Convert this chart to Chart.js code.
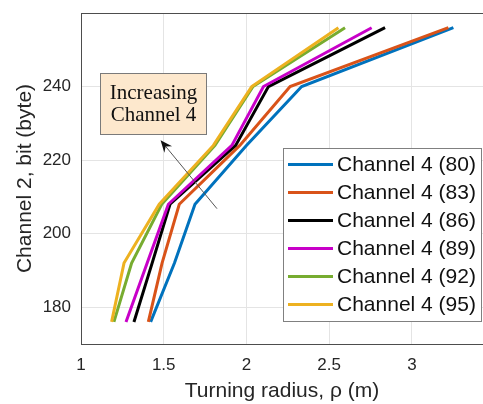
<!DOCTYPE html>
<html>
<head>
<meta charset="utf-8">
<script src="https://cdn.jsdelivr.net/npm/chart.js@4"></script>
<style>
  html, body { margin: 0; padding: 0; background: #fff; }
  #wrap { width: 483px; height: 404px; }
</style>
</head>
<body>
<div id="wrap"><canvas id="chart"></canvas></div>
<script>
// Valeurs
const channel2 = [176, 192, 208, 224, 240, 256];
const labels = ['Channel 4 (80)', 'Channel 4 (83)', 'Channel 4 (86)', 'Channel 4 (89)', 'Channel 4 (92)', 'Channel 4 (95)'];
const radius80 = [1.421, 1.565, 1.689, 2.000, 2.334, 3.251];
const radius83 = [1.407, 1.490, 1.594, 1.960, 2.264, 3.221];
const radius86 = [1.320, 1.430, 1.538, 1.935, 2.133, 2.838];
const radius89 = [1.272, 1.400, 1.528, 1.912, 2.103, 2.757];
const radius92 = [1.199, 1.306, 1.488, 1.810, 2.040, 2.596];
const radius95 = [1.185, 1.260, 1.473, 1.800, 2.032, 2.556];
const colors = ['#0072BD', '#D95319', '#000000', '#C800C8', '#77AC30', '#EDB120'];
const xTicks = [1, 1.5, 2, 2.5, 3];
const yTicks = [180, 200, 220, 240];

const FONT = "'Liberation Sans', Arial, sans-serif";
const series = [radius80, radius83, radius86, radius89, radius92, radius95];

const datasets = series.map(function(vals, i) {
  return {
    label: labels[i],
    data: vals.map(function(v, k) { return { x: v, y: channel2[k] }; }),
    borderColor: colors[i],
    backgroundColor: colors[i],
    borderWidth: 3,
    pointRadius: 0,
    tension: 0,
    showLine: true,
    order: series.length - i
  };
});

// Annotation (en unités de données)
const note = { x1: 1.115, x2: 1.754, y1: 243.6, y2: 227.1, lines: ['Increasing', 'Channel 4'] };
const arrow = { fromX: 1.822, fromY: 206.8, toX: 1.481, toY: 225.4 };

const extrasPlugin = {
  id: 'extras',
  afterDraw: function(chart) {
    const ctx = chart.ctx;
    const area = chart.chartArea;
    const xs = chart.scales.x;
    const ys = chart.scales.y;

    // bord supérieur
    ctx.save();
    ctx.strokeStyle = '#4d4d4d';
    ctx.lineWidth = 1;
    ctx.beginPath();
    ctx.moveTo(area.left, Math.round(area.top) + 0.5);
    ctx.lineTo(area.right, Math.round(area.top) + 0.5);
    ctx.stroke();

    // flèche
    const ax = xs.getPixelForValue(arrow.fromX), ay = ys.getPixelForValue(arrow.fromY);
    const bx = xs.getPixelForValue(arrow.toX), by = ys.getPixelForValue(arrow.toY);
    const ang = Math.atan2(by - ay, bx - ax);
    ctx.strokeStyle = '#555';
    ctx.fillStyle = '#111';
    ctx.lineWidth = 1;
    ctx.beginPath();
    ctx.moveTo(ax, ay);
    ctx.lineTo(bx - 8 * Math.cos(ang), by - 8 * Math.sin(ang));
    ctx.stroke();
    ctx.beginPath();
    ctx.moveTo(bx, by);
    ctx.lineTo(bx - 12 * Math.cos(ang) + 5 * Math.sin(ang), by - 12 * Math.sin(ang) - 5 * Math.cos(ang));
    ctx.lineTo(bx - 8 * Math.cos(ang), by - 8 * Math.sin(ang));
    ctx.lineTo(bx - 12 * Math.cos(ang) - 5 * Math.sin(ang), by - 12 * Math.sin(ang) + 5 * Math.cos(ang));
    ctx.closePath();
    ctx.fill();

    // boîte de texte
    const l = Math.round(xs.getPixelForValue(note.x1)) + 0.5;
    const r = Math.round(xs.getPixelForValue(note.x2)) + 0.5;
    const t = Math.round(ys.getPixelForValue(note.y1)) + 0.5;
    const b = Math.round(ys.getPixelForValue(note.y2)) + 0.5;
    ctx.fillStyle = '#FDE8CD';
    ctx.fillRect(l, t, r - l, b - t);
    ctx.strokeStyle = '#7a7a7a';
    ctx.strokeRect(l, t, r - l, b - t);
    ctx.fillStyle = '#111';
    ctx.font = "21px 'Liberation Serif', 'Times New Roman', serif";
    ctx.textAlign = 'center';
    ctx.textBaseline = 'middle';
    const cx = (l + r) / 2, cy = (t + b) / 2;
    ctx.fillText(note.lines[0], cx, cy - 11);
    ctx.fillText(note.lines[1], cx, cy + 11);

    // légende dans le graphique
    const lgL = 283.5, lgT = 148.5, lgR = 481.5, lgB = 321.5;
    ctx.fillStyle = '#fff';
    ctx.fillRect(lgL, lgT, lgR - lgL, lgB - lgT);
    ctx.strokeStyle = '#808080';
    ctx.strokeRect(lgL, lgT, lgR - lgL, lgB - lgT);
    ctx.font = '21px ' + FONT;
    ctx.textAlign = 'left';
    ctx.textBaseline = 'middle';
    chart.data.datasets.forEach(function(ds, i) {
      const yy = 164.5 + i * 28;
      ctx.strokeStyle = ds.borderColor;
      ctx.lineWidth = 3;
      ctx.beginPath();
      ctx.moveTo(288, yy);
      ctx.lineTo(333, yy);
      ctx.stroke();
      ctx.fillStyle = '#111';
      ctx.fillText(ds.label, 337, yy + 1);
    });
    ctx.restore();
  }
};

new Chart(document.getElementById('chart'), {
  type: 'scatter',
  data: { datasets: datasets },
  options: {
    responsive: true,
    maintainAspectRatio: false,
    animation: false,
    layout: { padding: { top: 13, right: 0, bottom: 0, left: 0 } },
    plugins: {
      legend: { display: false },
      tooltip: { enabled: false }
    },
    scales: {
      x: {
        type: 'linear',
        min: 1,
        max: 3.43,
        afterBuildTicks: function(s) { s.ticks = xTicks.map(function(v) { return { value: v }; }); },
        afterFit: function(s) { s.height = 60; s.paddingLeft = 0; s.paddingRight = 0; },
        grid: { color: '#e4e4e4', drawTicks: false },
        border: { color: '#4d4d4d' },
        ticks: {
          color: '#262626', font: { family: FONT, size: 17 }, padding: 11, maxRotation: 0,
          callback: function(v) { return String(v); }
        },
        title: { display: true, text: 'Turning radius, ρ (m)', color: '#262626', font: { family: FONT, size: 21 }, padding: { top: 0, bottom: 0 } }
      },
      y: {
        min: 170,
        max: 260,
        afterBuildTicks: function(s) { s.ticks = yTicks.map(function(v) { return { value: v }; }); },
        afterFit: function(s) { s.width = 81; s.paddingTop = 0; s.paddingBottom = 0; },
        grid: { color: '#e4e4e4', drawTicks: false },
        border: { color: '#4d4d4d' },
        ticks: { color: '#262626', font: { family: FONT, size: 17 }, padding: 10 },
        title: { display: true, text: 'Channel 2, bit (byte)', color: '#262626', font: { family: FONT, size: 21 }, padding: { top: 13, bottom: 0 } }
      }
    }
  },
  plugins: [extrasPlugin]
});
</script>
</body>
</html>
